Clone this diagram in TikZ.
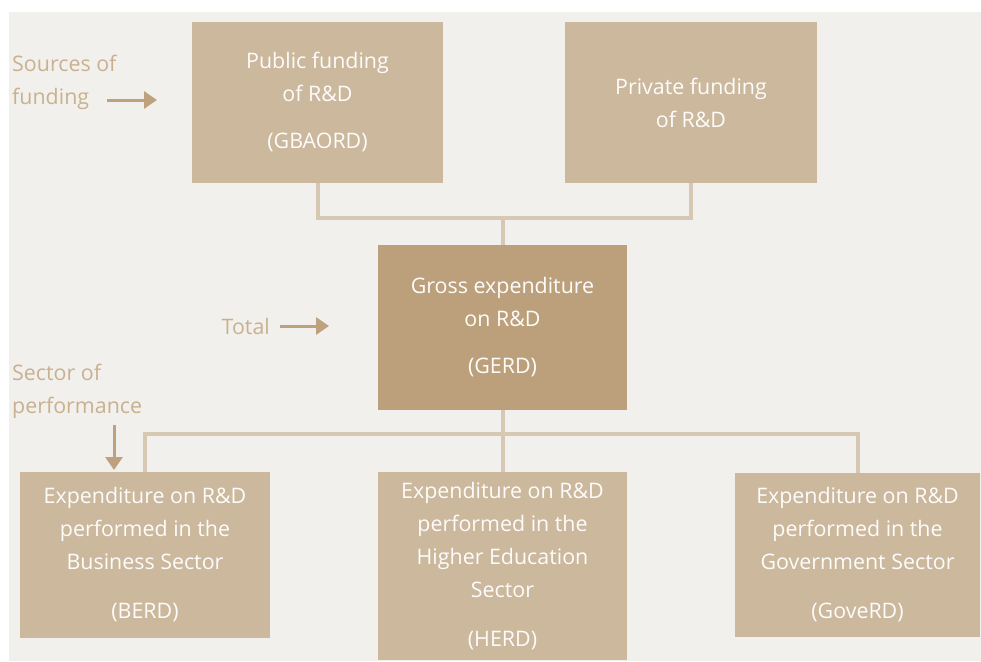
\documentclass[tikz,border=0pt]{standalone}
\usepackage{fontspec}
\setmainfont{Open Sans}
\usetikzlibrary{arrows.meta}

\definecolor{paper}{HTML}{F2F0EC}
\definecolor{boxlight}{HTML}{CBB89D}
\definecolor{boxdark}{HTML}{BCA07C}
\definecolor{linkcol}{HTML}{D6C8B3}
\definecolor{labelcol}{HTML}{C9B190}
\definecolor{arrowcol}{HTML}{BEA27E}

\begin{document}
\begin{tikzpicture}[x=1pt, y=-1pt,
		every node/.style={font=\fontsize{21.4}{33}\selectfont},
		fundbox/.style={fill=boxlight, text=white!96!boxlight, align=center, inner sep=0pt},
		link/.style={draw=linkcol, line width=4pt},
		pointer/.style={draw=arrowcol, line width=3pt, -{Triangle[width=17pt,length=13pt]}},
		side/.style={text=labelcol, align=left, inner sep=0pt}]
			% Background
			\useasboundingbox (0,0) rectangle (981,661);
			\fill[paper] (9,12) rectangle (981,661);

			% Sources of funding
			\node[fundbox, minimum width=251, minimum height=161] (pub) at (317.5,102.5) {Public funding\\of R\&D\\[14pt](GBAORD)};
			\node[fundbox, minimum width=252, minimum height=161] (priv) at (691,102.5) {Private funding\\of R\&D};

			% Total
			\node[fundbox, fill=boxdark, minimum width=249, minimum height=165] (gerd) at (502.5,327.5) {Gross expenditure\\on R\&D\\[14pt](GERD)};

			% Sector of performance
			\node[fundbox, minimum width=250, minimum height=166] (berd) at (145,555) {Expenditure on R\&D\\performed in the\\Business Sector\\[16pt](BERD)};
			\node[fundbox, minimum width=249, minimum height=188] (herd) at (502.5,566) {Expenditure on R\&D\\performed in the\\Higher Education\\Sector\\[16pt](HERD)};
			\node[fundbox, minimum width=245, minimum height=164] (gov) at (857.5,555) {Expenditure on R\&D\\performed in the\\Government Sector\\[16pt](GoveRD)};

			% Connectors
			\coordinate (tj) at (502.5,218);
			\coordinate (bj) at (502.5,434);
			\draw[link] (pub.south) |- (tj) -| (priv.south);
			\draw[link] (gerd.north) -- (tj);
			\draw[link] (berd.north) |- (bj) -| (gov.north);
			\draw[link] (gerd.south) -- (herd.north);

			% Side labels
			\node[side, anchor=west] (src) at (12,82) {Sources of\\funding};
			\coordinate (srcA) at (107,100);
			\coordinate (srcB) at (157,100);
			\draw[pointer] (srcA) -- (srcB);

			\node[side, anchor=east] (tot) at (270,326) {Total};
			\coordinate (totB) at (329,326);
			\draw[pointer] ([xshift=10pt]tot.east) -- (totB);

			\node[side, anchor=west] (sec) at (12,391) {Sector of\\performance};
			\coordinate (secA) at (114,425);
			\coordinate (secB) at (114,470);
			\draw[pointer] (secA) -- (secB);
		\end{tikzpicture}
\end{document}
